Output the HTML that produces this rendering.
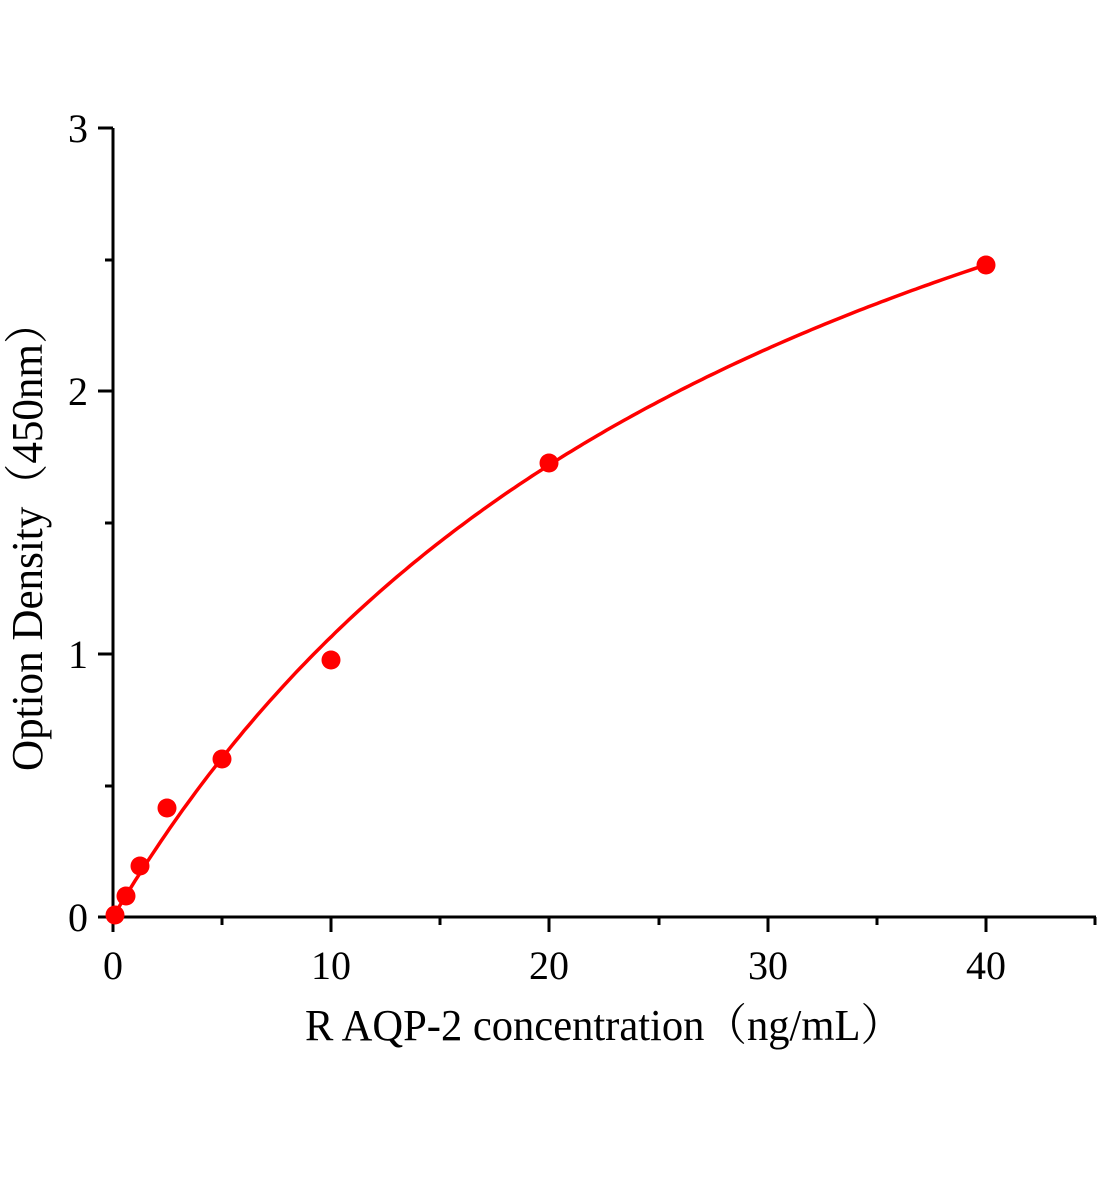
<!DOCTYPE html>
<html><head><meta charset="utf-8"><style>body{margin:0;background:#fff}svg{display:block}</style></head>
<body>
<svg width="1104" height="1200" xmlns="http://www.w3.org/2000/svg" font-family="Liberation Serif, Noto Serif CJK SC, serif">
<g stroke="#000" stroke-width="3" fill="none">
<line x1="113" y1="917" x2="1096" y2="917"/>
<line x1="113" y1="128" x2="113" y2="932"/>
<line x1="98" y1="917" x2="113" y2="917"/>
<line x1="98" y1="654" x2="113" y2="654"/>
<line x1="98" y1="391" x2="113" y2="391"/>
<line x1="98" y1="128" x2="113" y2="128"/>
<line x1="105" y1="786" x2="113" y2="786"/>
<line x1="105" y1="523" x2="113" y2="523"/>
<line x1="105" y1="260" x2="113" y2="260"/>
<line x1="331" y1="917" x2="331" y2="932"/>
<line x1="549" y1="917" x2="549" y2="932"/>
<line x1="768" y1="917" x2="768" y2="932"/>
<line x1="986" y1="917" x2="986" y2="932"/>
<line x1="222" y1="917" x2="222" y2="925"/>
<line x1="440" y1="917" x2="440" y2="925"/>
<line x1="659" y1="917" x2="659" y2="925"/>
<line x1="877" y1="917" x2="877" y2="925"/>
<line x1="1095" y1="917" x2="1095" y2="925"/>
</g>
<g font-size="40" fill="#000">
<text x="88" y="931" text-anchor="end">0</text>
<text x="88" y="668" text-anchor="end">1</text>
<text x="88" y="405" text-anchor="end">2</text>
<text x="88" y="142" text-anchor="end">3</text>
<g text-anchor="middle">
<text x="113" y="979">0</text>
<text x="331" y="979">10</text>
<text x="549" y="979">20</text>
<text x="768" y="979">30</text>
<text x="986" y="979">40</text>
</g>
<text x="604" y="1040" text-anchor="middle" font-size="44" textLength="598" lengthAdjust="spacingAndGlyphs">R AQP-2 concentration（ng/mL）</text>
<text transform="translate(42,536) rotate(-90)" text-anchor="middle" font-size="44" textLength="470" lengthAdjust="spacingAndGlyphs">Option Density（450nm）</text>
</g>
<path id="c" fill="none" stroke="#f00" stroke-width="3.5"/>
<g fill="#f00">
<circle cx="115" cy="915" r="9.5"/>
<circle cx="126" cy="896" r="9.5"/>
<circle cx="140" cy="866" r="9.5"/>
<circle cx="167" cy="808" r="9.5"/>
<circle cx="222" cy="759" r="9.5"/>
<circle cx="331" cy="660" r="9.5"/>
<circle cx="549" cy="463" r="9.5"/>
<circle cx="986" cy="265" r="9.5"/>
</g>
</svg>
<script>
var d="";for(var i=0;i<=200;i++){var x=i*0.2;var y=4.445*x/(31.7+x);var px=113+x*21.825,py=917-y*263;d+=(i?"L":"M")+px.toFixed(1)+" "+py.toFixed(1);}
document.getElementById("c").setAttribute("d",d);
</script>
</body></html>
